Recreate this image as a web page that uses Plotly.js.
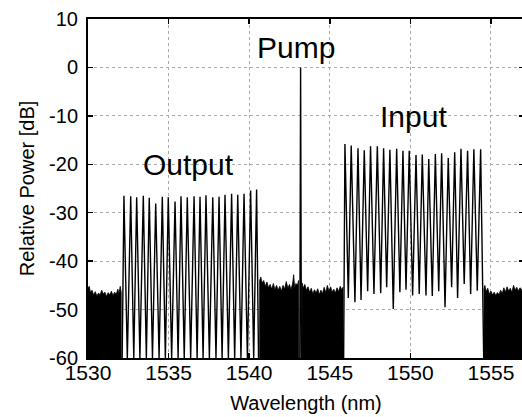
<!DOCTYPE html>
<html><head><meta charset="utf-8">
<script src="https://cdn.plot.ly/plotly-3.0.1.min.js"></script>
<style>html,body{margin:0;padding:0;overflow:hidden;background:#fff}</style>
</head><body><div id="chart"></div>
<script>
const Y_MIN = -60, Y_MAX = 10;
const X_MIN = 1530, X_MAX = 1557.05;

// Output comb (converted signal)
const outPeakWl = [1532.23, 1532.65, 1533.02, 1533.43, 1533.80, 1534.20, 1534.61, 1534.98, 1535.40, 1535.77, 1536.16, 1536.58, 1536.95, 1537.32, 1537.74, 1538.13, 1538.50, 1538.91, 1539.29, 1539.68, 1540.09, 1540.46];
const outPeakDb = [-26.5, -26.6, -26.8, -26.5, -26.9, -28.1, -26.7, -26.8, -27.7, -26.6, -26.8, -26.6, -26.7, -26.4, -26.8, -26.7, -26.3, -26.1, -26.3, -26.1, -25.4, -25.2];
const outValleyWl = [1532.12, 1532.44, 1532.84, 1533.22, 1533.62, 1534.00, 1534.41, 1534.80, 1535.19, 1535.59, 1535.97, 1536.37, 1536.77, 1537.14, 1537.53, 1537.94, 1538.32, 1538.71, 1539.10, 1539.49, 1539.89, 1540.28, 1540.58];
const outValleyDb = [-60, -60, -60, -60, -60, -60, -60, -60, -60, -60, -60, -60, -60, -60, -60, -60, -60, -60, -60, -60, -60, -60, -60];

// Input comb
const inPeakWl = [1545.94, 1546.33, 1546.75, 1547.14, 1547.53, 1547.95, 1548.34, 1548.73, 1549.15, 1549.54, 1549.93, 1550.35, 1550.74, 1551.14, 1551.55, 1551.94, 1552.35, 1552.75, 1553.14, 1553.55, 1553.94, 1554.36];
const inPeakDb = [-15.8, -16.1, -16.7, -17.1, -16.3, -16.3, -16.7, -17.0, -16.8, -17.2, -17.2, -18.1, -18.0, -18.9, -17.9, -17.7, -18.7, -17.5, -16.8, -17.2, -16.9, -16.9];
const inValleyWl = [1545.86, 1546.15, 1546.56, 1546.94, 1547.35, 1547.74, 1548.16, 1548.53, 1548.94, 1549.35, 1549.73, 1550.14, 1550.55, 1550.97, 1551.36, 1551.76, 1552.15, 1552.56, 1552.93, 1553.34, 1553.74, 1554.15, 1554.55];
const inValleyDb = [-60, -47.6, -48.5, -48.0, -46.2, -46.8, -46.6, -45.4, -49.9, -46.4, -45.9, -47.1, -46.8, -47.1, -47.2, -46.2, -49.5, -45.4, -47.6, -44.7, -46.8, -46.1, -60];

// Pump
const pumpPeakWl = [1543.19];
const pumpPeakDb = [0];
const pumpBaseWl = [1543.14, 1543.24];
const pumpBaseDb = [-60, -60];

// Noise floor (top envelope)
const noiseAWl = [1530.00, 1530.08, 1530.15, 1530.25, 1530.35, 1530.45, 1530.55, 1530.65, 1530.75, 1530.85, 1530.95, 1531.05, 1531.15, 1531.25, 1531.35, 1531.45, 1531.55, 1531.65, 1531.75, 1531.85, 1531.92, 1532.00, 1532.06];
const noiseADb = [-45.5, -45.2, -46.5, -46.0, -47.0, -46.3, -47.2, -46.6, -47.0, -46.0, -46.8, -46.4, -47.3, -46.5, -47.0, -46.2, -47.1, -46.4, -46.9, -45.8, -46.7, -45.2, -46.5];
const noiseBWl = [1540.65, 1540.72, 1540.80, 1540.90, 1541.00, 1541.10, 1541.20, 1541.30, 1541.40, 1541.50, 1541.60, 1541.70, 1541.80, 1541.90, 1542.00, 1542.10, 1542.20, 1542.30, 1542.40, 1542.50, 1542.60, 1542.70, 1542.76, 1542.82, 1542.90, 1543.00, 1543.06];
const noiseBDb = [-44.0, -43.3, -44.5, -44.0, -45.2, -44.3, -45.5, -44.8, -45.8, -44.6, -45.9, -45.0, -46.0, -45.2, -46.2, -45.0, -45.8, -44.2, -45.6, -44.8, -45.9, -44.5, -42.8, -45.5, -44.6, -45.0, -44.0];
const noiseCWl = [1543.28, 1543.35, 1543.45, 1543.55, 1543.65, 1543.75, 1543.85, 1543.95, 1544.05, 1544.15, 1544.25, 1544.35, 1544.45, 1544.55, 1544.65, 1544.75, 1544.85, 1544.95, 1545.05, 1545.15, 1545.25, 1545.35, 1545.45, 1545.55, 1545.65, 1545.75, 1545.82];
const noiseCDb = [-44.5, -45.6, -44.8, -46.0, -45.3, -46.4, -45.6, -46.8, -45.9, -46.6, -45.7, -46.9, -46.0, -46.7, -45.4, -46.5, -45.0, -46.2, -45.3, -46.4, -45.8, -46.6, -45.5, -46.3, -45.2, -46.0, -45.4];
const noiseDWl = [1554.57, 1554.62, 1554.70, 1554.80, 1554.90, 1555.00, 1555.10, 1555.20, 1555.30, 1555.40, 1555.50, 1555.60, 1555.70, 1555.80, 1555.90, 1556.00, 1556.10, 1556.20, 1556.30, 1556.40, 1556.50, 1556.60, 1556.70, 1556.80, 1556.92, 1557.05];
const noiseDDb = [-45.8, -45.0, -46.3, -45.6, -46.8, -46.2, -47.0, -46.4, -47.1, -46.5, -46.9, -46.0, -46.7, -45.5, -46.4, -45.3, -46.2, -45.6, -46.5, -45.0, -46.0, -45.4, -46.2, -45.5, -45.9, -46.3];

const xTicks = [1530, 1535, 1540, 1545, 1550, 1555];
const yTicks = [-60, -50, -40, -30, -20, -10, 0, 10];

const labels = [
  {text: 'Output', wl: 1536.22, db: -20.0},
  {text: 'Pump', wl: 1542.92, db: 4.1},
  {text: 'Input', wl: 1550.22, db: -10.2}
];

function comb(vx, vy, px, py) {
  const x = [], y = [];
  for (let i = 0; i < px.length; i++) {
    x.push(vx[i]); y.push(vy[i]);
    x.push(px[i]); y.push(py[i]);
  }
  x.push(vx[vx.length - 1]); y.push(vy[vy.length - 1]);
  return {x, y};
}
function noiseTrace(wl, db) {
  return {
    x: [wl[0]].concat(wl, [wl[wl.length - 1]]),
    y: [Y_MIN].concat(db, [Y_MIN]),
    type: 'scatter', mode: 'lines', fill: 'toself', fillcolor: '#000',
    line: {color: '#000', width: 0.8}, hoverinfo: 'skip', showlegend: false
  };
}
function lineTrace(d) {
  return {x: d.x, y: d.y, type: 'scatter', mode: 'lines',
    line: {color: '#000', width: 1.4}, hoverinfo: 'skip', showlegend: false};
}

const traces = [
  noiseTrace(noiseAWl, noiseADb),
  noiseTrace(noiseBWl, noiseBDb),
  noiseTrace(noiseCWl, noiseCDb),
  noiseTrace(noiseDWl, noiseDDb),
  lineTrace(comb(outValleyWl, outValleyDb, outPeakWl, outPeakDb)),
  lineTrace(comb(inValleyWl, inValleyDb, inPeakWl, inPeakDb)),
  lineTrace(comb(pumpBaseWl, pumpBaseDb, pumpPeakWl, pumpPeakDb))
];

const font = 'Liberation Sans, Arial, sans-serif';
const layout = {
  width: 524, height: 417,
  margin: {l: 88, r: 0, t: 19, b: 59},
  paper_bgcolor: '#fff', plot_bgcolor: '#fff',
  showlegend: false,
  font: {family: font, color: '#000', size: 20},
  xaxis: {
    range: [X_MIN, X_MAX], tickvals: xTicks, ticktext: xTicks.map(String),
    showgrid: true, gridcolor: '#aaa', griddash: 'dot', gridwidth: 1,
    showline: true, linecolor: '#000', linewidth: 2, mirror: 'ticks',
    ticks: 'inside', ticklen: 5, tickwidth: 1.5, tickcolor: '#000',
    tickfont: {size: 21}, zeroline: false, ticklabelstandoff: -5,
    title: {text: 'Wavelength (nm)', font: {size: 20}, standoff: 13}
  },
  yaxis: {
    range: [Y_MIN, Y_MAX], tickvals: yTicks, ticktext: yTicks.map(String),
    showgrid: true, gridcolor: '#aaa', griddash: 'dot', gridwidth: 1,
    showline: true, linecolor: '#000', linewidth: 2, mirror: 'ticks',
    ticks: 'inside', ticklen: 5, tickwidth: 1.5, tickcolor: '#000',
    tickfont: {size: 20}, zeroline: false, ticklabelstandoff: 4,
    title: {text: 'Relative Power [dB]', font: {size: 20}, standoff: 9}
  },
  annotations: labels.map(l => ({
    x: l.wl, y: l.db, xref: 'x', yref: 'y', text: l.text, showarrow: false,
    font: {size: 30, family: font, color: '#000'}, xanchor: 'center', yanchor: 'middle'
  }))
};

Plotly.newPlot('chart', traces, layout, {staticPlot: true, displayModeBar: false});
</script>
</body></html>
